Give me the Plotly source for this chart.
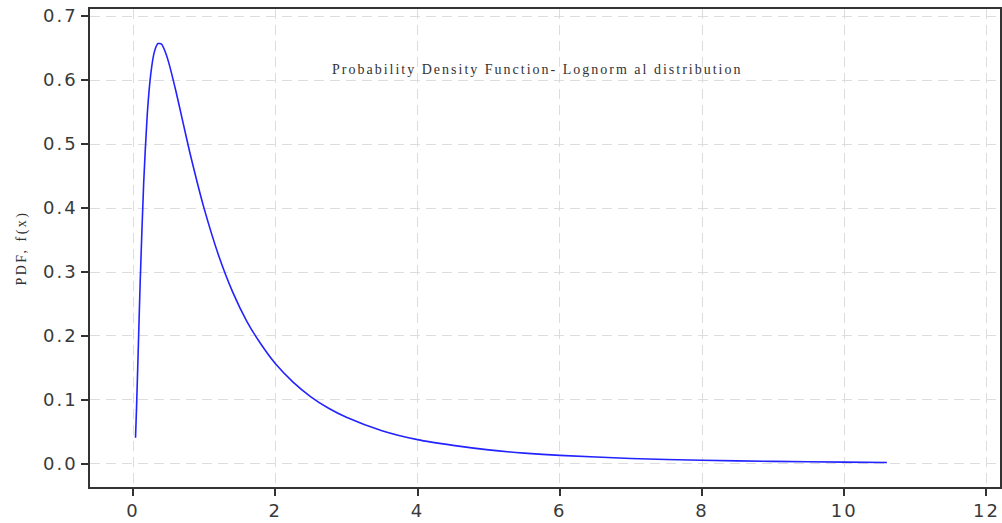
import plotly.graph_objects as go

# values
x_vals = [0.035, 0.05, 0.07, 0.1, 0.15, 0.2, 0.25, 0.3, 0.35, 0.4, 0.45, 0.5,
          0.6, 0.7, 0.8, 0.9, 1.0, 1.2, 1.4, 1.6, 1.8, 2.0, 2.25, 2.5, 2.75,
          3.0, 3.5, 4.0, 4.5, 5.0, 5.5, 6.0, 7.0, 8.0, 9.0, 10.0, 10.6]
pdf_vals = [0.041, 0.090, 0.166, 0.282, 0.440, 0.546, 0.610, 0.644, 0.657, 0.656,
            0.645, 0.628, 0.584, 0.535, 0.486, 0.441, 0.399, 0.327, 0.269, 0.223,
            0.187, 0.157, 0.128, 0.105, 0.087, 0.073, 0.052, 0.038, 0.029, 0.022,
            0.017, 0.0134, 0.0086, 0.0057, 0.0040, 0.0028, 0.0023]
x_ticks = [0, 2, 4, 6, 8, 10, 12]
y_ticks = [0.0, 0.1, 0.2, 0.3, 0.4, 0.5, 0.6, 0.7]
title_text = "Probability Density Function- Lognorm al distribution"
y_label = "PDF, f(x)"

fig = go.Figure()
fig.add_trace(go.Scatter(x=x_vals, y=pdf_vals, mode="lines",
                         line=dict(color="#2323ff", width=1.6, shape="spline", smoothing=0.6),
                         showlegend=False))

axis_common = dict(showline=True, linecolor="#333333", linewidth=1.6, mirror=True,
                   ticks="outside", ticklen=7, tickwidth=1.5, tickcolor="#333333",
                   showgrid=True, gridcolor="#dddddd", gridwidth=1.4, griddash="10px,6px",
                   zeroline=False, automargin=False,
                   tickfont=dict(family="DejaVu Sans", size=18, color="#3a3a3a"))

fig.update_xaxes(range=[-0.605, 12.19], tickvals=x_ticks,
                 ticktext=[str(v) for v in x_ticks], **axis_common)
fig.update_yaxes(range=[-0.036, 0.711], tickvals=y_ticks,
                 ticktext=[f"{v:.1f}" for v in y_ticks],
                 title=dict(text=y_label, font=dict(family="Liberation Serif", size=14, color="#333333"),
                            standoff=19),
                 **axis_common)

fig.add_annotation(x=5.68, y=0.616, xref="x", yref="y", text=title_text, showarrow=False,
                   font=dict(family="Liberation Serif", size=14, color="#333333"))

fig.update_layout(width=1002, height=523, margin=dict(l=90, r=2, t=9, b=36),
                  plot_bgcolor="white", paper_bgcolor="white")

post = """
document.body.style.margin = '0';
document.querySelectorAll('.annotation-text').forEach(function(e){ e.style.letterSpacing = '2px'; });
document.querySelectorAll('.ytitle').forEach(function(e){ e.style.letterSpacing = '2.5px'; });
document.querySelectorAll('.xtick text, .ytick text').forEach(function(e){ e.style.letterSpacing = '2px'; });
"""
fig.write_html("out.html", post_script=post, config={"displayModeBar": False})
